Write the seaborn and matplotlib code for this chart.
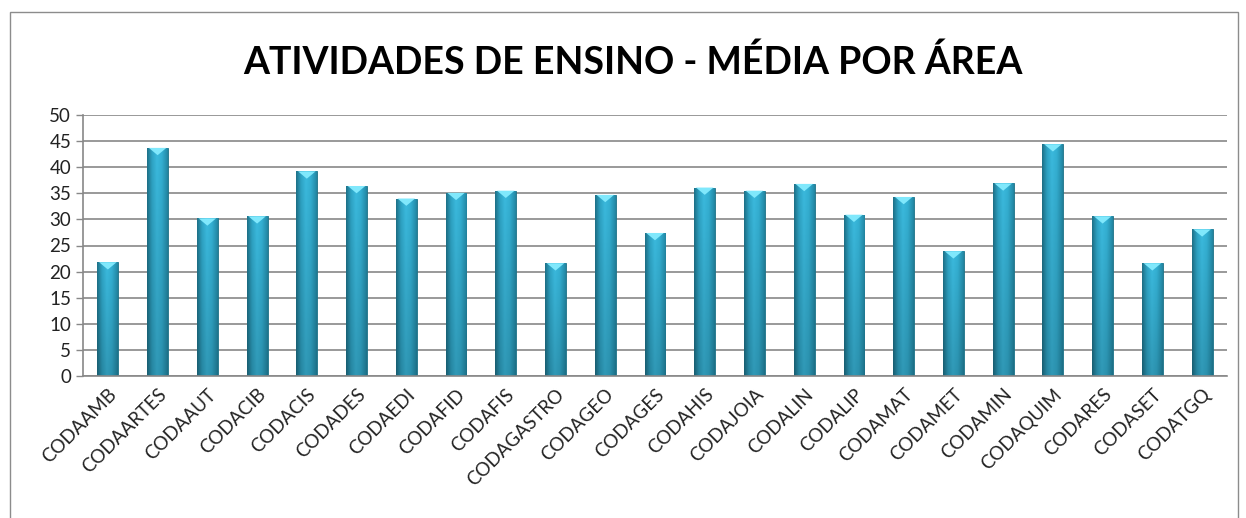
import numpy as np
import pandas as pd
import matplotlib
matplotlib.use("Agg")
import matplotlib.pyplot as plt
import seaborn as sns
from matplotlib.patches import Rectangle, Polygon
from matplotlib.colors import LinearSegmentedColormap

areas = ["CODAAMB", "CODAARTES", "CODAAUT", "CODACIB", "CODACIS", "CODADES",
         "CODAEDI", "CODAFID", "CODAFIS", "CODAGASTRO", "CODAGEO", "CODAGES",
         "CODAHIS", "CODAJOIA", "CODALIN", "CODALIP", "CODAMAT", "CODAMET",
         "CODAMIN", "CODAQUIM", "CODARES", "CODASET", "CODATGQ"]
media = [21.8, 43.7, 30.2, 30.6, 39.2, 36.4,
         34.0, 35.1, 35.5, 21.6, 34.7, 27.4,
         36.1, 35.5, 36.8, 30.9, 34.3, 23.9,
         36.9, 44.4, 30.6, 21.6, 28.1]
y_ticks = [0, 5, 10, 15, 20, 25, 30, 35, 40, 45, 50]

df = pd.DataFrame({"area": areas, "media": media})

sns.set_style("white")
plt.rcParams["font.family"] = ["Lato", "DejaVu Sans"]

fig = plt.figure(figsize=(12.46, 5.18), dpi=100)
ax = fig.add_axes([83 / 1246, 1 - 376 / 518, (1227 - 83) / 1246, (376 - 115) / 518])

# moldura externa do gráfico
fig.patches.append(Rectangle((10 / 1246, -0.01), 1228 / 1246, 1 - 12 / 518 + 0.01,
                             transform=fig.transFigure, fill=False,
                             edgecolor="#8c8c8c", linewidth=1.0))

ax.set_axisbelow(True)
ax.yaxis.grid(True, color="#888888", linewidth=1.2)

sns.barplot(data=df, x="area", y="media", color="#2fa8c8", width=0.42,
            edgecolor="#1d6f84", linewidth=0.6, saturation=1, ax=ax)

# gradiente "cilíndrico" das barras
cmap = LinearSegmentedColormap.from_list(
    "cil", ["#1e7188", "#2ea3c4", "#3bbade", "#34b0d3", "#2690ae", "#1a6478"])
xs = np.linspace(0, 1, 64)
ys = np.linspace(0, 1, 64)
grad = xs[None, :] * 0.85 + 0.0 * ys[:, None]
shade = 1 - 0.18 * (1 - ys[:, None])
for p in list(ax.patches):
    x0, w, h = p.get_x(), p.get_width(), p.get_height()
    rgba = cmap(grad)
    rgba[..., :3] *= shade[..., None]
    im = ax.imshow(rgba, extent=[x0, x0 + w, 0, h], origin="lower",
                   aspect="auto", zorder=p.get_zorder() + 0.1, interpolation="bilinear")
    im.set_clip_path(p)
    ax.add_patch(Polygon([[x0 + w * 0.08, h], [x0 + w * 0.92, h], [x0 + w * 0.5, h - 1.4]],
                         closed=True, facecolor="#80e8fc", edgecolor="none",
                         zorder=p.get_zorder() + 0.2))

ax.set_ylim(0, 50)
ax.set_xlim(-0.5, len(areas) - 0.5)
ax.set_yticks(y_ticks)
ax.set_xlabel("")
ax.set_ylabel("")

ax.set_xticks(np.arange(-0.5, len(areas), 1.0), minor=True)
ax.tick_params(axis="x", which="major", length=0, pad=7, labelsize=13.5, colors="#222222")
ax.tick_params(axis="x", which="minor", length=6, width=1, color="#888888", direction="out")
ax.tick_params(axis="y", length=5, width=1, color="#888888", direction="out",
               labelsize=13.5, labelcolor="#222222", left=True)
plt.setp(ax.get_xticklabels(), rotation=45, ha="right", rotation_mode="anchor")

for side in ["top", "right"]:
    ax.spines[side].set_visible(False)
for side in ["left", "bottom"]:
    ax.spines[side].set_color("#888888")
    ax.spines[side].set_linewidth(1.2)

fig.text(0.508, 1 - 62 / 518, "ATIVIDADES DE ENSINO - MÉDIA POR ÁREA",
         ha="center", va="center", fontsize=27, fontweight="bold", color="black")

fig.savefig("out.png", dpi=100)
